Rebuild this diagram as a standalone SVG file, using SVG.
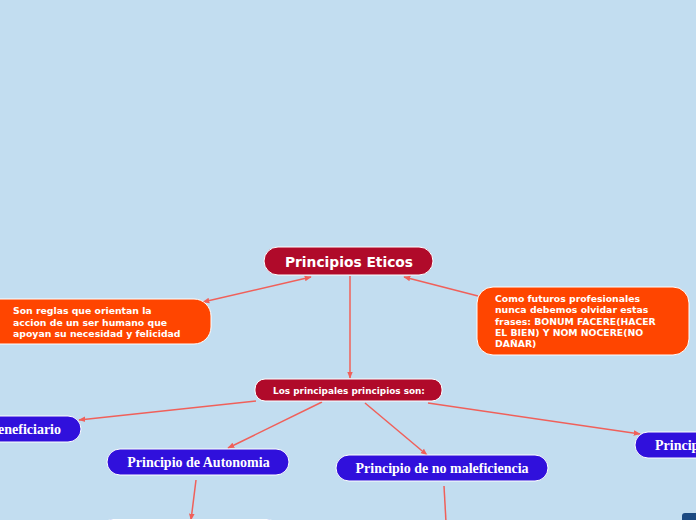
<svg xmlns="http://www.w3.org/2000/svg" width="696" height="520" viewBox="0 0 696 520">
<defs>
<marker id="arr" viewBox="0 0 10 10" refX="9" refY="5" markerWidth="7" markerHeight="7" orient="auto-start-reverse" markerUnits="userSpaceOnUse">
<path d="M0,1 L10,5 L0,9 Z" fill="#f0605a"/>
</marker>
</defs>
<style>
.bg{fill:#c2ddf0}
.title{fill:#b00a2a;stroke:#ffffff;stroke-width:1}
.orange{fill:#ff4500;stroke:#ffffff;stroke-width:1}
.blue{fill:#3010dc;stroke:#ffffff;stroke-width:1}
.conn{stroke:#f0605a;stroke-width:1.5;fill:none}
.sans{font-family:"DejaVu Sans",Verdana,sans-serif;font-weight:bold;fill:#ffffff}
.serif{font-family:"Liberation Serif","Times New Roman",serif;font-weight:bold;fill:#ffffff;font-size:14px}
</style>
<rect class="bg" x="0" y="0" width="696" height="520"/>
<g id="connectors">
<path class="conn" d="M350,276 L350,378" marker-end="url(#arr)"/>
<path class="conn" d="M311,277 L203,302" marker-start="url(#arr)" marker-end="url(#arr)"/>
<path class="conn" d="M478,296 L404,277" marker-end="url(#arr)"/>
<path class="conn" d="M256,401 L79,420" marker-end="url(#arr)"/>
<path class="conn" d="M322,402 L228,448" marker-end="url(#arr)"/>
<path class="conn" d="M365,403 L427,455" marker-end="url(#arr)"/>
<path class="conn" d="M428,403 L640,434" marker-end="url(#arr)"/>
<path class="conn" d="M196,480 L191,520" marker-end="url(#arr)"/>
<path class="conn" d="M444,486 L446,522"/>
</g>
<g id="n-principios">
<rect class="title" x="264" y="247" width="169" height="28" rx="14"/>
<text class="sans" x="349" y="266.5" font-size="13.8" text-anchor="middle">Principios Eticos</text>
</g>
<g id="n-reglas">
<rect class="orange" x="-20" y="299" width="231" height="45" rx="17"/>
<text class="sans" font-size="9.3"><tspan x="13" y="314">Son reglas que orientan la</tspan><tspan x="13" y="325.5">accion de un ser humano que</tspan><tspan x="13" y="337">apoyan su necesidad y felicidad</tspan></text>
</g>
<g id="n-futuros">
<rect class="orange" x="477" y="287" width="212" height="68" rx="16"/>
<text class="sans" font-size="9.3"><tspan x="495" y="302">Como futuros profesionales</tspan><tspan x="495" y="313.3">nunca debemos olvidar estas</tspan><tspan x="495" y="324.6">frases: BONUM FACERE(HACER</tspan><tspan x="495" y="336">EL BIEN) Y NOM NOCERE(NO</tspan><tspan x="495" y="347.3">DAÑAR)</tspan></text>
</g>
<g id="n-principales">
<rect class="title" x="255" y="379" width="187" height="22" rx="10"/>
<text class="sans" x="349" y="393.5" font-size="8.9" text-anchor="middle">Los principales principios son:</text>
</g>
<g id="n-beneficiario">
<rect class="blue" x="-30" y="416" width="111" height="26" rx="13"/>
<text class="serif" x="61" y="434" text-anchor="end">Beneficiario</text>
</g>
<g id="n-autonomia">
<rect class="blue" x="107" y="449" width="182" height="26" rx="13"/>
<text class="serif" x="198.5" y="467" text-anchor="middle">Principio de Autonomia</text>
</g>
<g id="n-nomaleficiencia">
<rect class="blue" x="336" y="455" width="212" height="26" rx="13"/>
<text class="serif" x="442" y="473" text-anchor="middle">Principio de no maleficiencia</text>
</g>
<g id="n-right">
<rect class="blue" x="635" y="432" width="100" height="26" rx="13"/>
<text class="serif" x="655" y="450">Principio</text>
</g>
<g id="n-bottom">
<rect class="blue" x="100" y="519.5" width="180" height="26" rx="13"/>
</g>
<g id="n-corner">
<rect x="682" y="513" width="30" height="20" rx="3" fill="#1c4a82"/>
</g>
</svg>
